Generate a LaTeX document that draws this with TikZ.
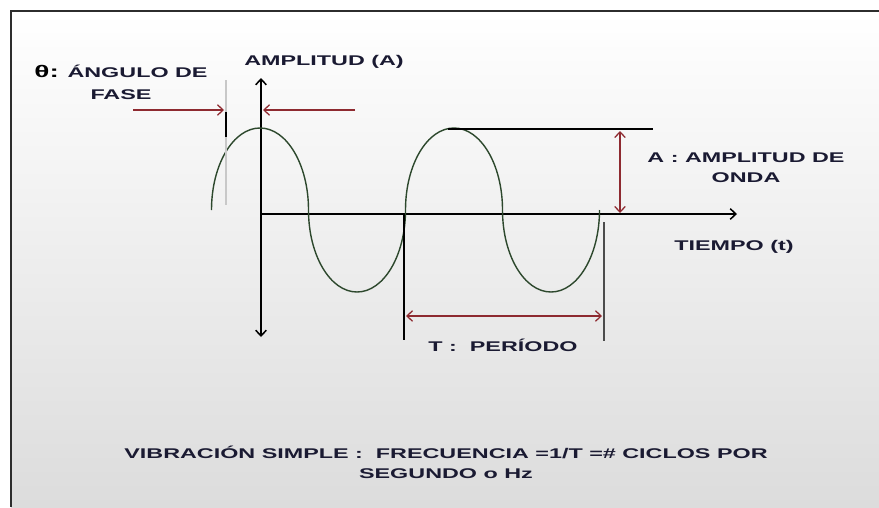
\documentclass[tikz,border=0pt]{standalone}
\usepackage{fontspec}
\usepackage{tikz}
\usetikzlibrary{arrows.meta}
\newfontfamily\lblfont{Liberation Sans}[FakeStretch=1.66]
\definecolor{vbtext}{RGB}{26,26,50}
\definecolor{vbred}{RGB}{142,42,48}
\definecolor{vbwave}{RGB}{45,72,45}
\definecolor{vbframe}{RGB}{45,45,45}
\definecolor{vbbg}{RGB}{220,220,220}
\definecolor{vbguide}{RGB}{200,200,200}
\tikzset{
  lbl/.style={vbtext, font=\lblfont\bfseries\fontsize{10}{14}\selectfont, align=center, inner sep=0pt},
  axisline/.style={black, line width=1.1pt},
  barb/.tip={Straight Barb[length=4pt,width=7.5pt]},
  ptr/.style={vbred, line width=0.9pt, -barb},
  dimarrow/.style={vbred, line width=0.9pt, barb-barb},
  wave/.style={vbwave, line width=1pt}
}

\begin{document}
\begin{tikzpicture}[x=0.025cm, y=-0.025cm]
\useasboundingbox (0,0) rectangle (879,507);
% background + frame
\fill[white] (0,0) rectangle (879,507);
\shade[top color=white, bottom color=vbbg] (11,11) rectangle (879,507);
\draw[vbframe, line width=1.4pt] (11,507) -- (11,11) -- (879,11);

% axes
\coordinate (orig) at (261,214);
\coordinate (vtop) at (261,78);
\coordinate (vbot) at (261,337);
\coordinate (htip) at (737,214);
\draw[axisline, barb-barb] (vbot) -- (vtop);
\draw[axisline, -barb] (orig) -- (htip);

% wave (half ellipses)
\draw[wave] (211.5,210)
  arc[start angle=180, end angle=360, x radius=48.5, y radius=82]
  arc[start angle=180, end angle=0, x radius=48.5, y radius=82]
  arc[start angle=180, end angle=360, x radius=48.5, y radius=82]
  arc[start angle=180, end angle=0, x radius=48.5, y radius=82];

% phase angle
\coordinate (phtop) at (226,80);
\coordinate (phbot) at (226,205);
\coordinate (phA) at (226,112);
\coordinate (phB) at (226,137);
\draw[vbguide, line width=0.8pt] (phtop) -- (phbot);
\draw[black, line width=1.1pt] (phA) -- (phB);
\coordinate (phl) at (133,110);
\coordinate (phlend) at (224,110);
\coordinate (phr) at (355,110);
\coordinate (phrend) at (263,110);
\draw[ptr] (phl) -- (phlend);
\draw[ptr] (phr) -- (phrend);

% amplitude
\coordinate (amptop) at (448,129);
\coordinate (ampend) at (653,129);
\draw[black, line width=1.1pt] (amptop) -- (ampend);
\coordinate (ampa) at (620,131);
\coordinate (ampb) at (620,213);
\draw[dimarrow] (ampa) -- (ampb);

% period
\coordinate (pera) at (404,214);
\coordinate (perb) at (404,340);
\coordinate (perc) at (604,222);
\coordinate (perd) at (604,341);
\draw[black, line width=1.1pt] (pera) -- (perb);
\draw[black!70, line width=1.1pt] (perc) -- (perd);
\coordinate (perl) at (406,316);
\coordinate (perr) at (602,316);
\draw[dimarrow] (perl) -- (perr);

% labels
\node[lbl] (fase) at (121,82) {{\color{black}\fontsize{12}{14}\selectfont θ:} ÁNGULO DE\\[1.5pt]FASE};
\node[lbl] (ampl) at (324,62) {AMPLITUD (A)};
\node[lbl] (amptxt) at (746,168) {A : AMPLITUD DE\\ONDA};
\node[lbl] (tiempo) at (734,247) {TIEMPO (t)};
\node[lbl] (periodo) at (503,345) {T :\ \ PERÍODO};
\node[lbl] (nota) at (446,462) {VIBRACIÓN SIMPLE :\ \ FRECUENCIA =1/T =\# CICLOS POR\\SEGUNDO o Hz};
\end{tikzpicture}
\end{document}
